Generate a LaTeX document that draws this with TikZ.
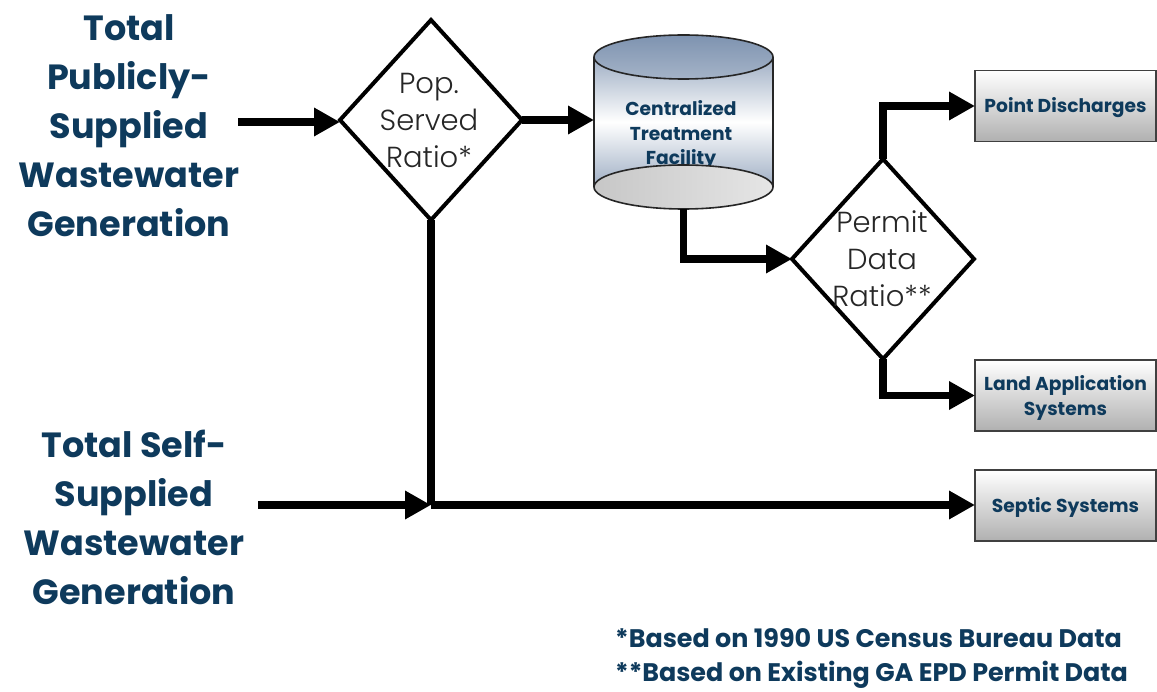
\documentclass[tikz,border=0pt]{standalone}
\usepackage{fontspec}
\setmainfont{Poppins}
\newfontfamily\lightf{Poppins Light}
\usetikzlibrary{shapes.geometric,arrows.meta,calc}
\definecolor{navy}{HTML}{0E3A5C}
\definecolor{boxgray}{HTML}{B0B0B0}
\definecolor{cylblue}{HTML}{7E93B0}
\tikzset{
 heading/.style={text=navy,font=\fontsize{35}{49}\selectfont\bfseries,align=center,inner sep=0pt},
 note/.style={text=navy,font=\fontsize{25.4}{34}\selectfont\bfseries,align=left,inner sep=0pt,anchor=north west},
 decision/.style={diamond,draw=black,line width=4pt,fill=white,inner sep=0pt,outer sep=0pt,minimum width=182pt,minimum height=200pt},
 ratio/.style={text=black!85,font=\lightf\fontsize{29}{37}\selectfont,align=center,inner sep=0pt},
 sink/.style={draw=black!75,line width=1.6pt,outer sep=0pt,minimum width=181pt,minimum height=71pt,inner sep=0pt,top color=white,bottom color=boxgray,text=navy,font=\fontsize{18.7}{24.5}\selectfont\bfseries,align=center},
 cyledge/.style={draw=black!85,line width=1.6pt},
 flow/.style={line width=7.5pt,-{Triangle[length=26pt,width=27pt]},black},
 trunk/.style={line width=7.5pt,black},
}
\begin{document}
\begin{tikzpicture}[x=1pt,y=-1pt]
\useasboundingbox (0,0) rectangle (1157,692);
\fill[white] (0,0) rectangle (1157,692);

\node[heading] (pub) at (129,126) {Total\\Publicly-\\Supplied\\Wastewater\\Generation};
\node[heading] (self) at (134,517) {Total Self-\\Supplied\\Wastewater\\Generation};

\node[decision] (pop) at (431,120) {};
\node[ratio] (poptext) at (429,120.5) {Pop.\\Served\\Ratio*};

% cylinder
\node[minimum width=179pt,minimum height=174pt,inner sep=0pt,outer sep=0pt] (cyl) at (683.5,122) {};
\shade[top color=cylblue!75,bottom color=cylblue!75,middle color=white,shading angle=0]
  (594,57) -- (594,187) arc[start angle=180,end angle=360,x radius=89.5pt,y radius=-22pt] -- (773,57) -- cycle;
\draw[cyledge] (594,57) -- (594,187) (773,57) -- (773,187);
\shade[cyledge,top color=cylblue,bottom color=cylblue!70] (683.5,57) ellipse[x radius=89.5pt,y radius=22pt];
\node[text=navy,font=\fontsize{18.7}{24.5}\selectfont\bfseries,align=center,inner sep=0pt] (cyltext) at (681,135) {Centralized\\Treatment\\Facility};
\shade[cyledge,left color=black!22,right color=black!10] (683.5,187) ellipse[x radius=89.5pt,y radius=22pt];

\node[decision] (per) at (883,259) {};
\node[ratio] (pertext) at (882,259) {Permit\\Data\\Ratio**};

\node[sink] (point) at (1065.5,106) {\rule{0pt}{18pt}Point Discharges};
\node[sink] (land) at (1065.5,395.5) {\rule{0pt}{20pt}Land Application\\Systems};
\node[sink] (septic) at (1065.5,505.5) {\rule{0pt}{18pt}Septic Systems};

\coordinate (pubE) at (238,122);
\coordinate (selfE) at (258,505);
\coordinate (junc) at (431,505);

\draw[flow] (pubE) -- (pubE -| pop.west);
\draw[flow] (pop.east) -- (pop.east -| cyl.west);
\draw[flow] (cyl.south) |- (per.west);
\draw[flow] (per.north) |- (point.west);
\draw[flow] (per.south) |- (land.west);
\draw[trunk] (pop.south) -- (junc);
\draw[flow] (junc) -- (junc -| septic.west);
\draw[flow] (selfE) -- (junc);

\node[note] (notes) at (615,628) {*Based on 1990 US Census Bureau Data\\**Based on Existing GA EPD Permit Data};
\end{tikzpicture}
\end{document}
